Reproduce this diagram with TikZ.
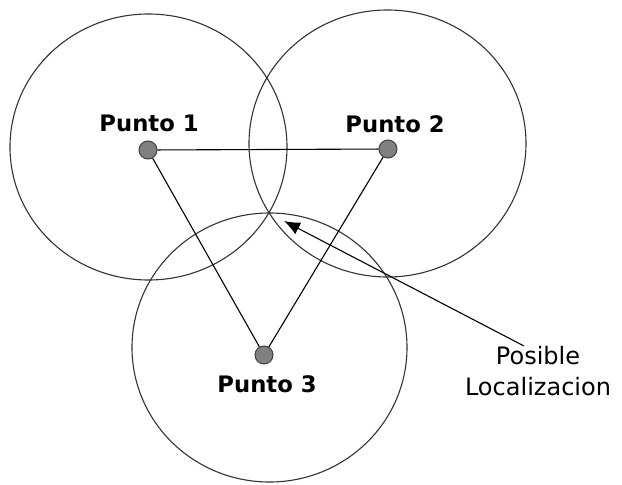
\documentclass[tikz,border=0pt]{standalone}
\usepackage{fontspec}
\setmainfont{DejaVu Sans}
\usetikzlibrary{arrows.meta}
\begin{document}
\begin{tikzpicture}[x=1pt,y=-1pt,
  dot/.style={circle,draw=black!75,fill=black!50,line width=1pt,minimum size=18pt,inner sep=0pt},
  lbl/.style={font=\bfseries\fontsize{22.7}{26}\selectfont,anchor=base,inner sep=0pt},
  rng/.style={draw=black!80,line width=1.1pt}]
\useasboundingbox (0,0) rectangle (622,485);
% range circles
\draw[rng] (148.5,147) ellipse [x radius=138.5, y radius=133];
\draw[rng] (387.5,143.5) ellipse [x radius=138.5, y radius=133.5];
\draw[rng] (269.5,347.5) ellipse [x radius=137.5, y radius=134.5];

\node[dot] (p1) at (148,150) {};
\node[dot] (p2) at (388,149) {};
\node[dot] (p3) at (264,355) {};
\node[lbl] at (149,131) {Punto 1};
\node[lbl] at (395,132) {Punto 2};
\node[lbl] at (267,392) {Punto 3};

\draw[line width=1.1pt] (p1) -- (p2);
\draw[line width=1.1pt] (p1) -- (p3);
\draw[line width=1.1pt] (p2) -- (p3);

\coordinate (pos) at (284,221);
\node[font=\fontsize{24}{31}\selectfont,align=center,anchor=north,inner sep=0pt] (loc) at (538,346) {Posible\\Localizacion};
\draw[line width=1.1pt,-{Latex[length=16pt,width=13pt]}] ([xshift=-14pt]loc.north) -- (pos);
\end{tikzpicture}
\end{document}
